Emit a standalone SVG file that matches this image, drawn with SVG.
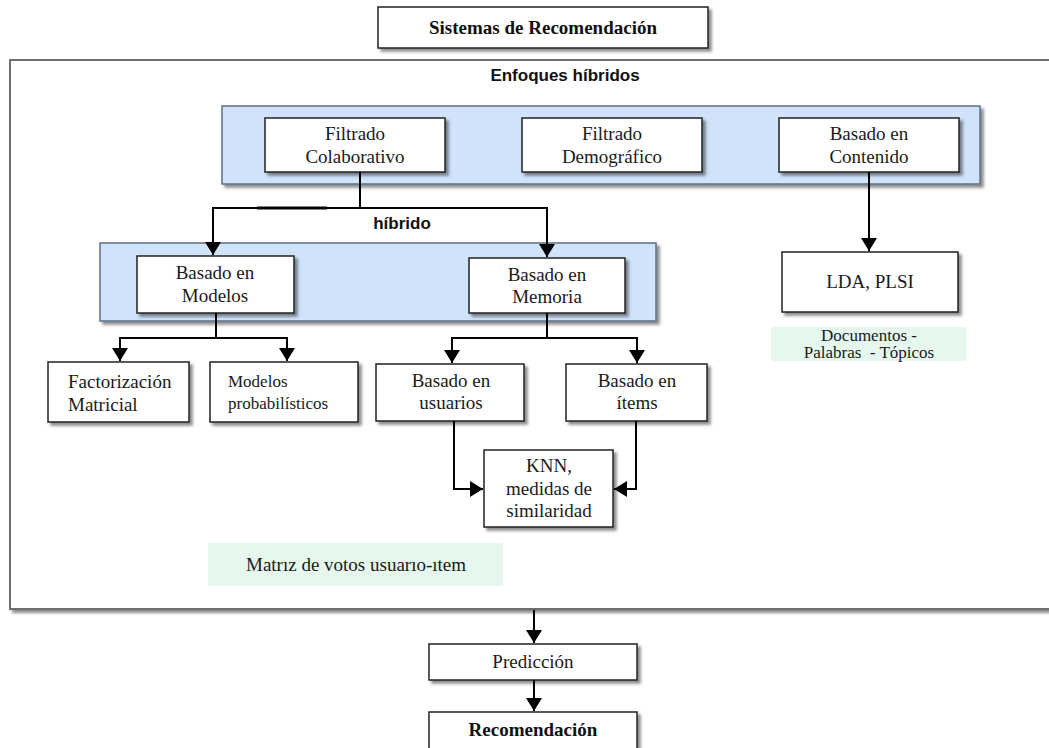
<svg xmlns="http://www.w3.org/2000/svg" width="1049" height="748" viewBox="0 0 1049 748">
<style>
.box{fill:#fff;stroke:#222;stroke-width:1.5;filter:url(#sh)}
.band{fill:#d0e3fa;stroke:#5c6f88;stroke-width:1.5;filter:url(#sh)}
.green{fill:#e6f7ee}
.t{font-family:"Liberation Serif",serif;font-size:19px;fill:#1a1a1a;text-anchor:middle}
.ts{font-family:"Liberation Serif",serif;font-size:17px;fill:#1a1a1a}
.tb{font-family:"Liberation Serif",serif;font-size:19px;font-weight:bold;fill:#111;text-anchor:middle}
.sb{font-family:"Liberation Sans",sans-serif;font-size:17px;font-weight:bold;fill:#111;text-anchor:middle}
.ln{fill:none;stroke:#000;stroke-width:2}
.ar{fill:none;stroke:#000;stroke-width:2;marker-end:url(#ah)}
</style>
<defs>
<filter id="sh" x="-5%" y="-5%" width="115%" height="130%">
<feDropShadow dx="3" dy="3" stdDeviation="1.5" flood-color="#000" flood-opacity="0.45"/>
</filter>
<marker id="ah" viewBox="0 0 13 16" refX="13" refY="8" markerWidth="13" markerHeight="16" markerUnits="userSpaceOnUse" orient="auto">
<path d="M0,0 L13,8 L0,16 Z" fill="#000"/>
</marker>
</defs>
<rect width="1049" height="748" fill="#fff"/>
<g id="outer">
<rect x="10" y="60" width="1060" height="549" fill="#fff" stroke="#6e6e6e" stroke-width="2" filter="url(#sh)"/>
<text class="sb" x="565" y="81">Enfoques híbridos</text>
</g>
<g id="title"><rect class="box" x="378" y="7" width="330" height="41"/><text class="tb" x="543" y="34">Sistemas de Recomendación</text></g>
<g id="band1"><rect class="band" x="222" y="106" width="758" height="78"/></g>
<g id="band2"><rect class="band" x="100" y="243" width="556" height="78"/></g>
<g id="colaborativo"><rect class="box" x="265" y="118" width="180" height="54"/><text class="t" x="355" y="140">Filtrado</text><text class="t" x="355" y="163">Colaborativo</text></g>
<g id="demografico"><rect class="box" x="522" y="118" width="180" height="54"/><text class="t" x="612" y="140">Filtrado</text><text class="t" x="612" y="163">Demográfico</text></g>
<g id="contenido"><rect class="box" x="779" y="118" width="180" height="54"/><text class="t" x="869" y="140">Basado en</text><text class="t" x="869" y="163">Contenido</text></g>
<g id="modelos"><rect class="box" x="137" y="256" width="157" height="57"/><text class="t" x="215" y="279">Basado en</text><text class="t" x="215" y="302">Modelos</text></g>
<g id="memoria"><rect class="box" x="469" y="258" width="156" height="55"/><text class="t" x="547" y="281">Basado en</text><text class="t" x="547" y="303">Memoria</text></g>
<g id="factorizacion"><rect class="box" x="48" y="362" width="141" height="60"/><text class="t" x="68" y="388" style="text-anchor:start">Factorización</text><text class="t" x="68" y="411" style="text-anchor:start">Matricial</text></g>
<g id="probabilisticos"><rect class="box" x="210" y="362" width="148" height="60"/><text class="ts" x="228" y="387">Modelos</text><text class="ts" x="228" y="409">probabilísticos</text></g>
<g id="usuarios"><rect class="box" x="376" y="364" width="148" height="57"/><text class="t" x="451" y="387">Basado en</text><text class="t" x="451" y="409">usuarios</text></g>
<g id="items"><rect class="box" x="566" y="364" width="141" height="57"/><text class="t" x="637" y="387">Basado en</text><text class="t" x="637" y="409">ítems</text></g>
<g id="knn"><rect class="box" x="484" y="450" width="129" height="77"/><text class="t" x="549" y="472">KNN,</text><text class="t" x="549" y="495">medidas de</text><text class="t" x="549" y="517">similaridad</text></g>
<g id="lda"><rect class="box" x="782" y="252" width="176" height="60"/><text class="t" x="870" y="288">LDA, PLSI</text></g>
<g id="documentos"><rect class="green" x="771" y="327" width="195" height="34"/><text class="ts" x="869" y="341" style="text-anchor:middle">Documentos -</text><text class="ts" x="869" y="358" style="text-anchor:middle" xml:space="preserve">Palabras  - Tópicos</text></g>
<g id="matriz"><rect class="green" x="208" y="543" width="295" height="43"/><text class="t" x="356" y="571">Matrız de votos usuarıo-ıtem</text></g>
<g id="prediccion"><rect class="box" x="429" y="644" width="208" height="36"/><text class="t" x="533" y="668">Predicción</text></g>
<g id="recomendacion"><rect class="box" x="429" y="712" width="208" height="45"/><text class="tb" x="533" y="736">Recomendación</text></g>
<g id="connectors">
<path class="ln" d="M360,172 V208 M213,208 H547"/>
<path d="M257,208 H327" stroke="#000" stroke-width="3.2"/>
<path class="ar" d="M213,207 V255"/>
<path class="ar" d="M547,207 V257"/>
<text class="sb" x="402" y="229">híbrido</text>
<path class="ln" d="M216,313 V338 M120,338 H287"/>
<path class="ar" d="M120,337 V361"/>
<path class="ar" d="M287,337 V361"/>
<path class="ln" d="M547,313 V338 M452,338 H637"/>
<path class="ar" d="M452,337 V363"/>
<path class="ar" d="M637,337 V363"/>
<path class="ar" d="M454,421 V489 H483"/>
<path class="ar" d="M636,421 V489 H614"/>
<path class="ar" d="M869,172 V251"/>
<path class="ar" d="M534,610 V643"/>
<path class="ar" d="M534,680 V711"/>
</g>
</svg>
